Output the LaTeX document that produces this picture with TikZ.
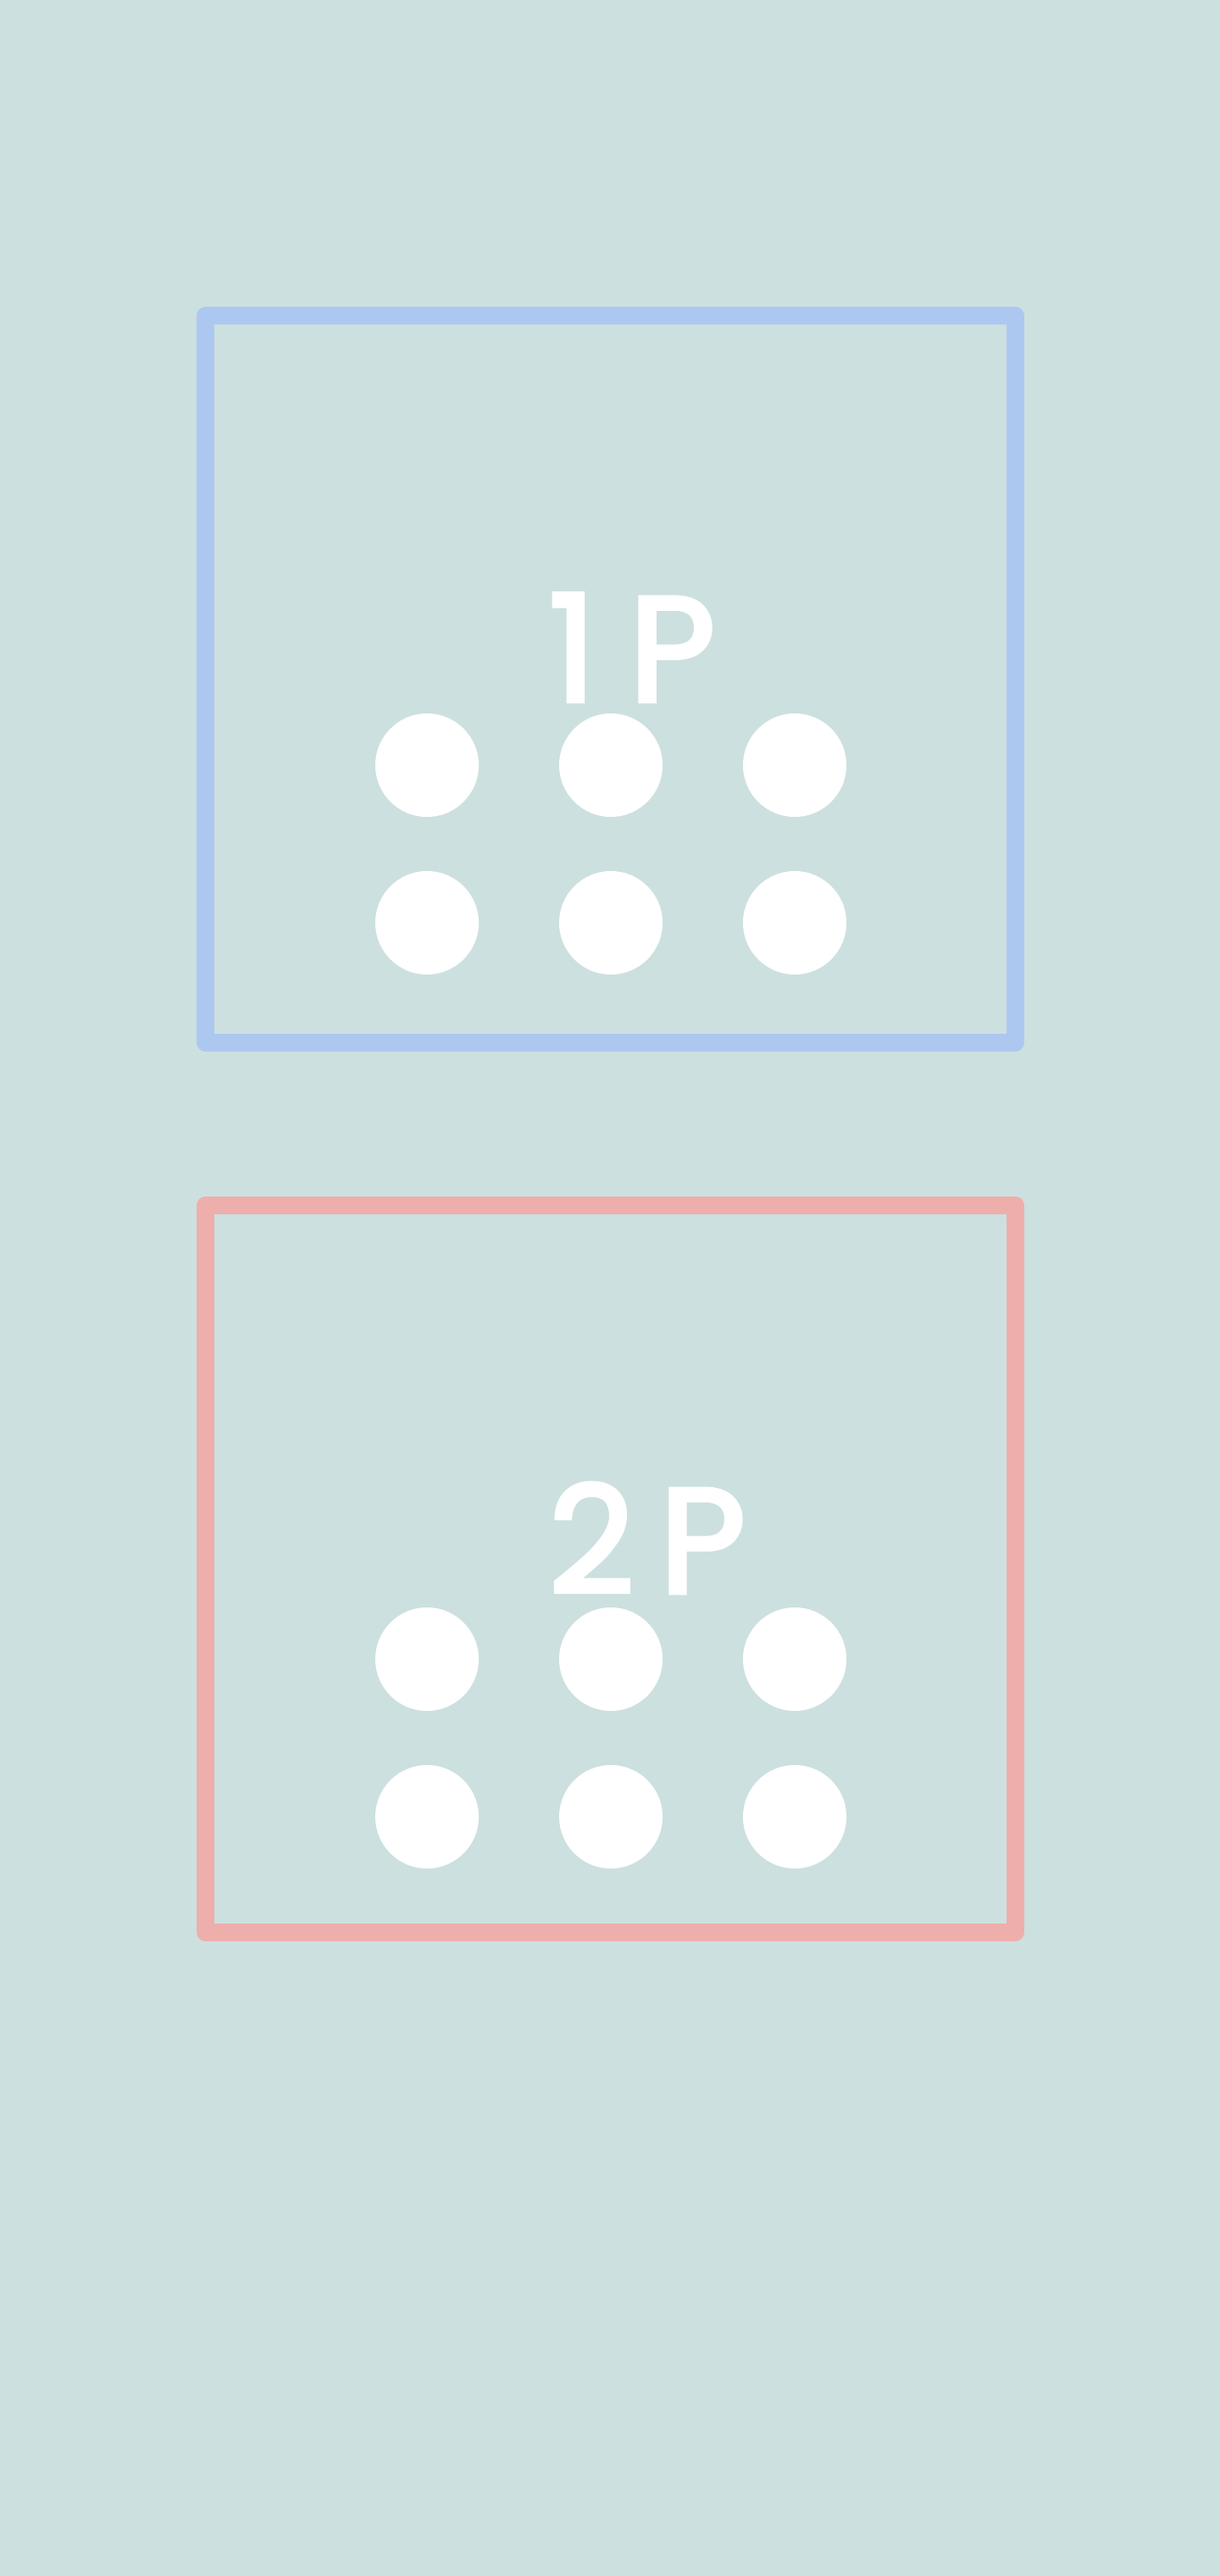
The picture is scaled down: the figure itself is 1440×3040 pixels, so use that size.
\documentclass[tikz,border=0pt]{standalone}
\usepackage{fontspec}
\newfontfamily\handfont{Poppins}[FakeBold=3]
\definecolor{bgc}{RGB}{204,224,223}
\definecolor{bluec}{RGB}{173,200,240}
\definecolor{redc}{RGB}{238,175,172}
\begin{document}
\begin{tikzpicture}[x=0.01cm,y=-0.01cm,
  panel/.style={draw, line width=0.21cm, line join=round, minimum width=9.55cm, minimum height=8.57cm, inner sep=0pt},
  dot/.style={circle, fill=white, minimum size=1.22cm, inner sep=0pt},
  plabel/.style={text=white, font=\handfont\fontsize{50pt}{56pt}\selectfont, inner sep=0pt}]
\fill[bgc] (0,0) rectangle (1440,3040);
\useasboundingbox (0,0) rectangle (1440,3040);
% panel 1
\node[panel, draw=bluec] (box1) at (720.5,801.5) {};
\node[plabel] (lab1) at (746,764) {1\hspace{0.22em}P};
\foreach \i/\x in {1/504,2/721,3/938}{
  \node[dot] (d1a\i) at (\x,903) {};
  \node[dot] (d1b\i) at (\x,1089) {};
}
% panel 2
\node[panel, draw=redc] (box2) at (720.5,1851.5) {};
\node[plabel] (lab2) at (764,1815) {2\hspace{0.17em}P};
\foreach \i/\x in {1/504,2/721,3/938}{
  \node[dot] (d2a\i) at (\x,1958) {};
  \node[dot] (d2b\i) at (\x,2144) {};
}
\end{tikzpicture}
\end{document}
